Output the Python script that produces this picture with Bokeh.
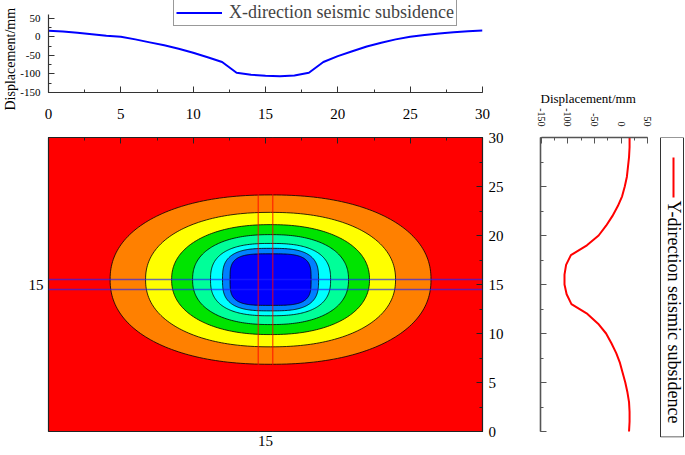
import math
import numpy as np
from bokeh.plotting import figure
from bokeh.models import (Range1d, SingleIntervalTicker, FixedTicker, LinearAxis, Legend, LegendItem,
                          Span, BoxAnnotation, Label, ColumnDataSource, NumeralTickFormatter, Title)
from bokeh.layouts import row, column
from bokeh.embed import file_html
from bokeh.resources import INLINE

FONT = "Liberation Serif"

# ---- data: X-direction profile (along x, at y = 15) ----
x_pos = list(range(0, 31))
x_disp = [16, 14, 11, 7, 3, 0, -7, -15, -23, -32, -43, -55, -68, -97, -102, -105,
          -106, -104, -97, -68, -52, -39, -26, -16, -7, 0, 5, 9, 12, 15, 17]

# ---- data: Y-direction profile (along y, at x = 15) ----
y_pos = list(range(0, 31))
y_disp = [15, 16, 16, 15, 12, 8, 3, -2, -9, -18, -28, -43, -63, -93, -102, -106,
          -106, -103, -94, -64, -42, -28, -16, -6, 2, 7, 11, 13, 15, 16, 16]

# ---- contour rings (outer -> inner) ----
ring_colors = ["#FF8000", "#FFFF00", "#00E400", "#00FF99", "#00FFFF", "#0080FF", "#0000FF"]
ring_half_w = [11.09, 8.64, 6.84, 5.39, 4.15, 3.32, 2.80]
ring_half_h = [8.64, 6.86, 5.61, 4.59, 3.69, 3.19, 2.63]
ring_power = [2.2, 2.2, 2.2, 2.3, 2.6, 3.0, 3.6]
center_x, center_y = 15.35, 15.5
background_level_color = "#FF0000"

section_x = [14.5, 15.5]
section_y = [14.5, 15.5]


def style_axis(ax, color, width, tick_in, minor_in):
    ax.axis_line_color = color
    ax.axis_line_width = width
    ax.major_tick_line_color = color if color else "#222222"
    ax.minor_tick_line_color = color if color else "#222222"
    ax.major_tick_in = tick_in
    ax.major_tick_out = 0
    ax.minor_tick_in = minor_in
    ax.minor_tick_out = 0
    ax.major_label_text_font = FONT
    ax.major_label_text_color = "black"
    ax.axis_label_text_font = FONT
    ax.axis_label_text_font_style = "normal"
    ax.axis_label_text_color = "black"


def hide_labels(ax):
    ax.major_label_text_font_size = "1px"
    ax.major_label_text_alpha = 0
    ax.major_label_standoff = 0


# ---------------- top profile ----------------
top = figure(frame_width=434, frame_height=92, min_border_left=48, min_border_right=36,
             min_border_top=0, min_border_bottom=36,
             x_range=Range1d(0, 30), y_range=Range1d(-150, 97.7),
             output_backend="svg", toolbar_location=None)
top.grid.visible = False
top.outline_line_color = None
top.xaxis.ticker = SingleIntervalTicker(interval=5, num_minor_ticks=2)
top.yaxis.ticker = SingleIntervalTicker(interval=50, num_minor_ticks=2)
top.yaxis.bounds = (-150, 60)
top.yaxis.formatter = NumeralTickFormatter(format="0")
style_axis(top.xaxis[0], "#333333", 1.2, 6, 3)
style_axis(top.yaxis[0], "#333333", 1.2, 6, 3)
top.xaxis.major_label_text_font_size = "15px"
top.xaxis.major_label_standoff = 16
top.yaxis.major_label_text_font_size = "11px"
top.yaxis.major_label_standoff = 8
top.add_layout(Title(text="Displacement/mm", align="left", offset=-18, standoff=0,
                     text_font=FONT, text_font_size="14px", text_font_style="normal",
                     text_color="black"), "left")

rx = top.line(x_pos, x_disp, line_color="#0000FF", line_width=2)
leg = Legend(items=[LegendItem(label="X-direction seismic subsidence", renderers=[rx])],
             location=(125, 66), padding=2, margin=0, spacing=0,
             glyph_width=46, glyph_height=17, label_height=17, label_standoff=7,
             label_text_font=FONT, label_text_font_size="18px",
             border_line_color="#333333", border_line_width=1,
             background_fill_color="white", background_fill_alpha=1)
top.add_layout(leg)

# ---------------- contour map ----------------
cont = figure(frame_width=434, frame_height=294, min_border_left=48, min_border_right=36,
              min_border_top=9, min_border_bottom=22,
              x_range=Range1d(0, 30), y_range=Range1d(0, 30),
              x_axis_location=None, y_axis_location=None,
              output_backend="svg", toolbar_location=None)
cont.grid.visible = False
cont.background_fill_color = background_level_color
cont.outline_line_color = "#222222"
cont.outline_line_width = 1.2

t = np.linspace(0, 2 * np.pi, 241)
xs, ys = [], []
for a, b, n in zip(ring_half_w, ring_half_h, ring_power):
    c, s = np.cos(t), np.sin(t)
    xs.append(list(center_x + a * np.sign(c) * np.abs(c) ** (2.0 / n)))
    ys.append(list(center_y + b * np.sign(s) * np.abs(s) ** (2.0 / n)))
src = ColumnDataSource(dict(xs=xs, ys=ys, color=ring_colors))
cont.patches("xs", "ys", source=src, fill_color="color", line_color="black",
             line_width=1, line_alpha=0.8)

for v in section_y:
    cont.add_layout(Span(location=v, dimension="width", line_color="#2020FF",
                         line_alpha=0.65, line_width=1.5))
for v in section_x:
    cont.add_layout(Span(location=v, dimension="height", line_color="#FF0000",
                         line_alpha=0.6, line_width=1.5))

ax_top = LinearAxis(ticker=SingleIntervalTicker(interval=5, num_minor_ticks=2))
style_axis(ax_top, None, 1, 6, 3)
hide_labels(ax_top)
cont.add_layout(ax_top, "above")

ax_right = LinearAxis(ticker=SingleIntervalTicker(interval=5, num_minor_ticks=2))
style_axis(ax_right, None, 1, 6, 3)
ax_right.major_label_text_font_size = "15px"
ax_right.major_label_standoff = 6
cont.add_layout(ax_right, "right")

ax_left = LinearAxis(ticker=FixedTicker(ticks=[15]))
style_axis(ax_left, None, 1, 0, 0)
ax_left.major_label_text_font_size = "15px"
ax_left.major_label_standoff = 5
cont.add_layout(ax_left, "left")

ax_bottom = LinearAxis(ticker=FixedTicker(ticks=[15]))
style_axis(ax_bottom, None, 1, 0, 0)
ax_bottom.major_label_text_font_size = "15px"
ax_bottom.major_label_standoff = 4
cont.add_layout(ax_bottom, "below")

# ---------------- side profile (with its rotated legend) ----------------
side = figure(title="Displacement/mm",
              frame_width=144, frame_height=300, min_border_left=22, min_border_right=0,
              min_border_top=137, min_border_bottom=16,
              x_range=Range1d(-151, 119), y_range=Range1d(-0.612, 30),
              x_axis_location="above", y_axis_location="left",
              output_backend="svg", toolbar_location=None)
side.title.align = "left"
side.title.offset = 0
side.title.standoff = 0
side.title.text_font = FONT
side.title.text_font_size = "13px"
side.title.text_font_style = "normal"
side.title.text_color = "black"
side.grid.visible = False
side.outline_line_color = None
side.xaxis.ticker = SingleIntervalTicker(interval=50, num_minor_ticks=2)
side.xaxis.bounds = (-150, 50)
side.xaxis.formatter = NumeralTickFormatter(format="0")
side.yaxis.ticker = SingleIntervalTicker(interval=5, num_minor_ticks=2)
side.yaxis.bounds = (0, 30)
style_axis(side.xaxis[0], "#555555", 1.6, 6, 3)
style_axis(side.yaxis[0], "#555555", 1.6, 6, 3)
hide_labels(side.yaxis[0])
side.xaxis.major_label_text_font_size = "10px"
side.xaxis.major_label_orientation = -math.pi / 2
side.xaxis.major_label_standoff = 11

side.line(y_disp, y_pos, line_color="#FF0000", line_width=2)

side.add_layout(BoxAnnotation(left=120, right=143, top=300, bottom=0.5,
                              left_units="screen", right_units="screen",
                              top_units="screen", bottom_units="screen",
                              fill_color="white", fill_alpha=0,
                              line_color="#333333", line_width=1, line_alpha=1))
side.add_layout(BoxAnnotation(left=132, right=134, top=280, bottom=240,
                              left_units="screen", right_units="screen",
                              top_units="screen", bottom_units="screen",
                              fill_color="#FF0000", fill_alpha=1, line_color=None))
side.add_layout(Label(x=133, y=237, x_units="screen", y_units="screen",
                      text="Y-direction seismic subsidence", angle=-math.pi / 2,
                      text_align="left", text_baseline="middle",
                      text_font=FONT, text_font_size="18px", text_color="black"))

layout = row(column(top, cont), side)
open("out.html", "w").write(file_html(layout, INLINE))
